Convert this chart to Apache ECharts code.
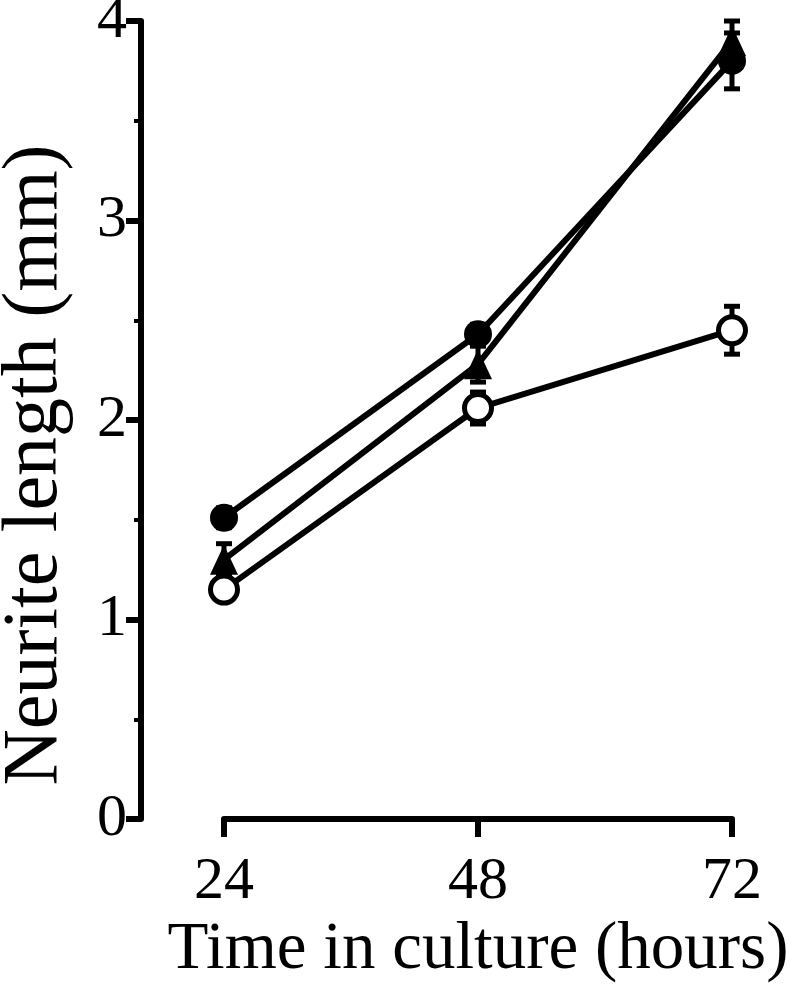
<!DOCTYPE html>
<html>
<head>
<meta charset="utf-8">
<script src="https://cdn.jsdelivr.net/npm/echarts@6/dist/echarts.min.js"></script>
<style>html,body{margin:0;padding:0;background:#fff}#c{width:800px;height:984px}</style>
</head>
<body>
<div id="c"></div>
<script>
var hours = [24, 48, 72];
var xTicks = [24, 48, 72];
var yTicks = [0, 1, 2, 3, 4];
var filledCircle = [1.51, 2.43, 3.80];
var filledCircleErr = [0.05, 0.05, 0.14];
var triangle = [1.30, 2.28, 3.90];
var triangleErr = [0.08, 0.09, 0.10];
var openCircle = [1.15, 2.06, 2.45];
var openCircleErr = [0.05, 0.08, 0.12];

var FONT = 'Liberation Serif';

function pairs(vals) { return hours.map(function (h, i) { return [h, vals[i]]; }); }
function errData(vals, errs) { return hours.map(function (h, i) { return [h, vals[i] - errs[i], vals[i] + errs[i]]; }); }

function errSeries(vals, errs) {
  return {
    type: 'custom',
    data: errData(vals, errs),
    z: 1,
    renderItem: function (params, api) {
      var x = api.value(0);
      var lo = api.coord([x, api.value(1)]);
      var hi = api.coord([x, api.value(2)]);
      var w = 8;
      var st = { stroke: '#000', lineWidth: 5 };
      return {
        type: 'group',
        children: [
          { type: 'line', shape: { x1: lo[0], y1: lo[1], x2: hi[0], y2: hi[1] }, style: st },
          { type: 'line', shape: { x1: lo[0] - w, y1: lo[1], x2: lo[0] + w, y2: lo[1] }, style: st },
          { type: 'line', shape: { x1: hi[0] - w, y1: hi[1], x2: hi[0] + w, y2: hi[1] }, style: st }
        ]
      };
    }
  };
}

var chart = echarts.init(document.getElementById('c'), null, { renderer: 'canvas' });
chart.setOption({
  backgroundColor: '#fff',
  animation: false,
  grid: { left: 224, right: 68, top: 21, bottom: 165, containLabel: false, outerBoundsMode: 'none' },
  xAxis: {
    type: 'value', min: xTicks[0], max: xTicks[xTicks.length - 1], interval: 24,
    offset: 3,
    name: 'Time in culture (hours)', nameLocation: 'middle', nameGap: 95,
    nameTextStyle: { fontFamily: FONT, fontSize: 67, color: '#000' },
    axisLine: { show: true, lineStyle: { color: '#000', width: 6 } },
    axisTick: { show: true, inside: false, length: 18, lineStyle: { color: '#000', width: 6 } },
    axisLabel: { fontFamily: FONT, fontSize: 60, color: '#000', margin: 30 },
    splitLine: { show: false }
  },
  yAxis: {
    type: 'value', min: yTicks[0], max: yTicks[yTicks.length - 1], interval: 1,
    offset: 83,
    name: 'Neurite length (mm)', nameLocation: 'middle', nameGap: 66,
    nameTextStyle: { fontFamily: FONT, fontSize: 78, color: '#000', padding: [0, 90, 0, 0] },
    axisLine: { show: true, lineStyle: { color: '#000', width: 6 } },
    axisTick: { show: true, inside: false, length: 15, lineStyle: { color: '#000', width: 6 } },
    minorTick: { show: true, splitNumber: 2, length: 7, lineStyle: { color: '#000', width: 4 } },
    axisLabel: { fontFamily: FONT, fontSize: 60, color: '#000', margin: 14 },
    splitLine: { show: false }
  },
  series: [
    errSeries(filledCircle, filledCircleErr),
    errSeries(triangle, triangleErr),
    errSeries(openCircle, openCircleErr),
    {
      type: 'line', data: pairs(openCircle), z: 3,
      symbol: 'circle', symbolSize: 27,
      lineStyle: { color: '#000', width: 6 },
      itemStyle: { color: '#fff', borderColor: '#000', borderWidth: 5 }
    },
    {
      type: 'line', data: pairs(triangle), z: 4,
      symbol: 'triangle', symbolSize: [28, 30],
      lineStyle: { color: '#000', width: 6 },
      itemStyle: { color: '#000', borderColor: '#000', borderWidth: 0 }
    },
    {
      type: 'line', data: pairs(filledCircle), z: 5,
      symbol: 'circle', symbolSize: 28,
      lineStyle: { color: '#000', width: 6 },
      itemStyle: { color: '#000', borderColor: '#000', borderWidth: 0 }
    }
  ]
});
</script>
</body>
</html>
